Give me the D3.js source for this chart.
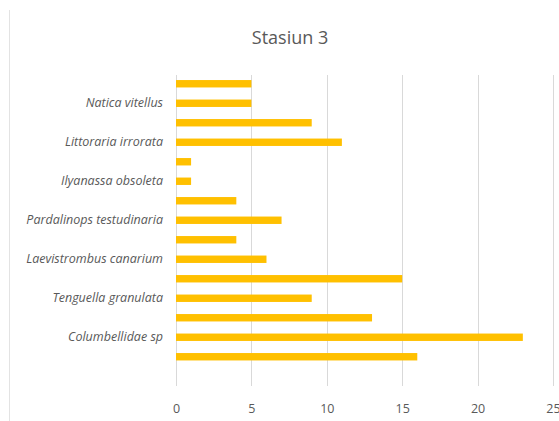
<!DOCTYPE html>
<html><head><meta charset="utf-8">
<script src="https://cdn.jsdelivr.net/npm/d3@7/dist/d3.min.js"></script>
<style>body{margin:0;background:#fff}svg{display:block}</style>
</head><body>
<svg id="c" width="559" height="421"></svg>
<script>
const title = "Stasiun 3";
const categories = ["c1","Natica vitellus","c3","Littoraria irrorata","c5","Ilyanassa obsoleta","c7","Pardalinops testudinaria","c9","Laevistrombus canarium","c11","Tenguella granulata","c13","Columbellidae sp","c15","c16"];
const shownLabels = ["Natica vitellus","Littoraria irrorata","Ilyanassa obsoleta","Pardalinops testudinaria","Laevistrombus canarium","Tenguella granulata","Columbellidae sp"];
const values = [5,5,9,11,1,1,4,7,4,6,15,9,13,23,16,null];
const xTicks = [0,5,10,15,20,25];

const svg = d3.select("#c");
const font = "'Open Sans', 'Liberation Sans', sans-serif";
const x = d3.scaleLinear().domain([0,25]).range([176,553]);
const y = d3.scaleBand().domain(categories).range([74,386]).paddingInner(0.62).paddingOuter(0.31);

// left border
svg.append("line").attr("x1",9.5).attr("x2",9.5).attr("y1",10).attr("y2",421).attr("stroke","#e3e3e3").attr("stroke-width",1);

svg.append("text").attr("x",290).attr("y",44).attr("text-anchor","middle")
  .attr("font-family",font).attr("font-size",18).attr("fill","#595959").text(title);

// gridlines
svg.append("g").selectAll("line").data(xTicks).join("line")
  .attr("x1",d=>Math.round(x(d))+0.5).attr("x2",d=>Math.round(x(d))+0.5)
  .attr("y1",75).attr("y2",386).attr("stroke","#d9d9d9").attr("stroke-width",1);

// bars
svg.append("g").selectAll("rect").data(categories.map((c,i)=>({c,v:values[i]})).filter(d=>d.v!=null)).join("rect")
  .attr("x",x(0)).attr("y",d=>y(d.c)).attr("width",d=>x(d.v)-x(0)).attr("height",y.bandwidth())
  .attr("fill","#FFC000");

// x axis labels
const xAxis = d3.axisBottom(x).tickValues(xTicks).tickSize(0).tickPadding(0);
const gx = svg.append("g").attr("transform","translate(0,402)").call(xAxis);
gx.select(".domain").remove();
gx.selectAll("text").attr("font-family",font).attr("font-size",12.5).attr("fill","#595959").attr("dy","0.9em");

// y axis labels
const yAxis = d3.axisLeft(y).tickSize(0).tickPadding(0).tickFormat(d=>shownLabels.includes(d)?d:"");
const gy = svg.append("g").attr("transform","translate(163,0)").call(yAxis);
gy.select(".domain").remove();
gy.selectAll("text").attr("font-family",font).attr("font-size",12.5).attr("font-style","italic")
  .attr("fill","#595959");
</script>
</body></html>
